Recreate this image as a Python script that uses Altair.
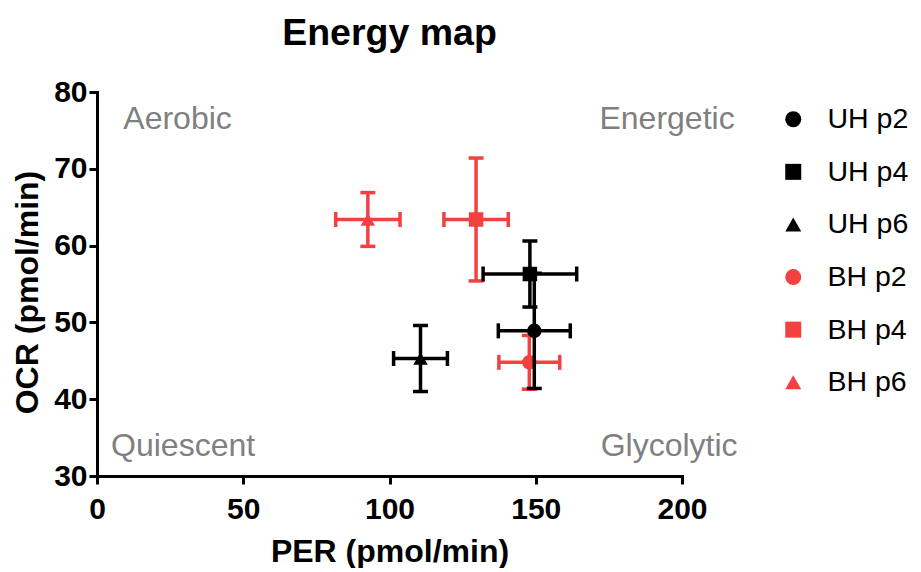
import altair as alt
import pandas as pd

# ---- data ----
groups = ["UH p2", "UH p4", "UH p6", "BH p2", "BH p4", "BH p6"]
family = ["UH", "UH", "UH", "BH", "BH", "BH"]
per_mean = [149.5, 148.0, 110.6, 147.8, 129.6, 92.6]
per_err = [12.3, 16.0, 9.2, 10.4, 11.0, 11.0]
ocr_mean = [48.9, 56.3, 45.3, 44.8, 63.4, 63.4]
ocr_err = [7.5, 4.3, 4.3, 3.5, 8.0, 3.5]

x_ticks = [0, 50, 100, 150, 200]
y_ticks = [30, 40, 50, 60, 70, 80]

quad_left_text = ["Aerobic", "Quiescent"]
quad_left_x = [9.0, 4.8]
quad_left_y = [76.5, 33.9]
quad_right_text = ["Energetic", "Glycolytic"]
quad_right_x = [218.0, 219.0]
quad_right_y = [76.5, 33.9]

families = ["UH", "BH"]
family_colors = ["#000000", "#F24141"]
colors = ["#000000", "#000000", "#000000", "#F24141", "#F24141", "#F24141"]
shapes = ["circle", "square", "triangle-up", "circle", "square", "triangle-up"]

FONT = "Liberation Sans"

df = pd.DataFrame({
    "group": groups,
    "family": family,
    "per": per_mean,
    "per_lo": [m - e for m, e in zip(per_mean, per_err)],
    "per_hi": [m + e for m, e in zip(per_mean, per_err)],
    "ocr": ocr_mean,
    "ocr_lo": [m - e for m, e in zip(ocr_mean, ocr_err)],
    "ocr_hi": [m + e for m, e in zip(ocr_mean, ocr_err)],
})

xs = alt.Scale(domain=[0, 200], nice=False, zero=False)
ys = alt.Scale(domain=[30, 80], nice=False, zero=False)
cscale = alt.Scale(domain=groups, range=colors)
sscale = alt.Scale(domain=groups, range=shapes)
fscale = alt.Scale(domain=families, range=family_colors)

x_axis = alt.Axis(values=x_ticks, title="PER (pmol/min)", grid=False, labelFlush=False)
y_axis = alt.Axis(values=y_ticks, title="OCR (pmol/min)", grid=False, labelFlush=False,
                  titleY=200)

legend = alt.Legend(
    title=None, orient="none", legendX=682, legendY=13,
    labelFontSize=28.5, labelFont=FONT, labelColor="#000000",
    symbolSize=256, symbolStrokeWidth=0,
    rowPadding=23.6, labelOffset=20, symbolOpacity=1,
)

BAR_W = 3.5


def layers_for(fam):
    b = alt.Chart(df).transform_filter(alt.datum.family == fam)
    stk = alt.Stroke("family:N", scale=fscale, legend=None)
    fil = alt.Fill("family:N", scale=fscale, legend=None)
    vbar = b.mark_rule(strokeWidth=BAR_W).encode(
        x=alt.X("per:Q", scale=xs, axis=x_axis),
        y=alt.Y("ocr_lo:Q", scale=ys, axis=y_axis),
        y2="ocr_hi:Q", stroke=stk)
    hbar = b.mark_rule(strokeWidth=BAR_W).encode(
        x=alt.X("per_lo:Q", scale=xs), x2="per_hi:Q",
        y=alt.Y("ocr:Q", scale=ys), stroke=stk)
    caps = []
    for yf in ["ocr_lo", "ocr_hi"]:
        caps.append(b.mark_tick(orient="horizontal", size=15, thickness=BAR_W, opacity=1).encode(
            x=alt.X("per:Q", scale=xs), y=alt.Y(f"{yf}:Q", scale=ys), fill=fil))
    for xf in ["per_lo", "per_hi"]:
        caps.append(b.mark_tick(orient="vertical", size=15, thickness=BAR_W, opacity=1).encode(
            x=alt.X(f"{xf}:Q", scale=xs), y=alt.Y("ocr:Q", scale=ys), fill=fil))
    pts = b.mark_point(filled=True, size=210, opacity=1, strokeWidth=0).encode(
        x=alt.X("per:Q", scale=xs), y=alt.Y("ocr:Q", scale=ys),
        color=alt.Color("group:N", scale=cscale, legend=legend),
        shape=alt.Shape("group:N", scale=sscale, legend=legend))
    return [vbar, hbar] + caps + [pts]


qleft = pd.DataFrame({"t": quad_left_text, "x": quad_left_x, "y": quad_left_y})
qright = pd.DataFrame({"t": quad_right_text, "x": quad_right_x, "y": quad_right_y})
ql = alt.Chart(qleft).mark_text(align="left", baseline="middle", fontSize=32,
                                font=FONT, color="#808080").encode(
    x=alt.X("x:Q", scale=xs), y=alt.Y("y:Q", scale=ys), text="t:N")
qr = alt.Chart(qright).mark_text(align="right", baseline="middle", fontSize=32,
                                 font=FONT, color="#808080").encode(
    x=alt.X("x:Q", scale=xs), y=alt.Y("y:Q", scale=ys), text="t:N")

chart = alt.layer(ql, qr, *layers_for("BH"), *layers_for("UH")).properties(
    width=585, height=384,
    title=alt.TitleParams("Energy map", fontSize=37.5, font=FONT, fontWeight="bold",
                          anchor="middle", offset=25, color="#000000"),
    autosize=alt.AutoSizeParams(type="none"),
    padding={"left": 89, "top": 84, "right": 231, "bottom": 92},
).configure_view(stroke=None).configure_axis(
    domainColor="#000000", domainWidth=3, tickColor="#000000", tickWidth=3,
    tickSize=8, labelFont=FONT, labelFontSize=30, labelFontWeight="bold",
    labelColor="#000000", titleFont=FONT, titleFontSize=32, titleFontWeight="bold",
    titleColor="#000000", domainCap="square",
).configure_axisX(labelPadding=10, titlePadding=12).configure_axisY(
    labelPadding=2, titlePadding=9)

chart.save("out.html", embed_options={"renderer": "svg", "actions": False})
